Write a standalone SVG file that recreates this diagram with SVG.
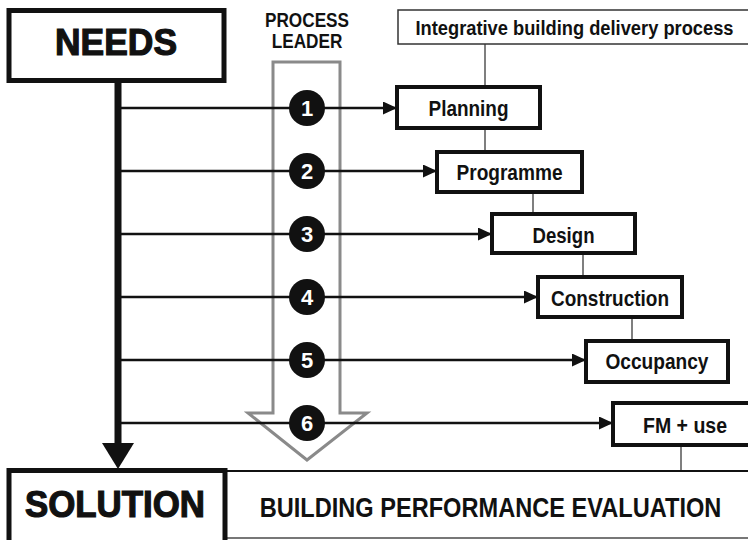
<svg xmlns="http://www.w3.org/2000/svg" width="748" height="540" viewBox="0 0 748 540">
<defs>
<style>
.t{font-family:"Liberation Sans",Arial,sans-serif;font-weight:bold;fill:#111;text-anchor:middle}
.big{font-size:36px;stroke:#111;stroke-width:1.2}
.lbl{font-size:22px}
.num{font-family:"Liberation Sans",Arial,sans-serif;font-weight:bold;font-size:22px;fill:#fff;text-anchor:middle}
.box{fill:#fff;stroke:#111;stroke-width:4}
.thick{fill:#fff;stroke:#111;stroke-width:5}
.flow{stroke:#111;stroke-width:2.5;fill:none}
.thin{stroke:#555;stroke-width:1.5;fill:none}
</style>
<marker id="ah" viewBox="0 0 14 13" refX="14" refY="6.5" markerWidth="14" markerHeight="13" markerUnits="userSpaceOnUse" orient="auto">
<path d="M0,0 L14,6.5 L0,13 Z" fill="#111"/>
</marker>
</defs>
<rect width="748" height="540" fill="#fff"/>

<g id="leader-arrow">
<path d="M273,62 L340,62 L340,413 L367,413 L307,460 L248,413 L273,413 Z" fill="none" stroke="#8a8a8a" stroke-width="3"/>
<text class="t" transform="translate(307,27) scale(0.86,1)" x="0" y="0" font-size="20">PROCESS</text>
<text class="t" transform="translate(307,48) scale(0.86,1)" x="0" y="0" font-size="20">LEADER</text>
</g>

<g id="connectors">
<line x1="118" y1="82" x2="118" y2="445" stroke="#111" stroke-width="7"/>
<path d="M102,443 L134,443 L118,469 Z" fill="#111"/>
<line class="flow" x1="118" y1="108" x2="397" y2="108" marker-end="url(#ah)"/>
<line class="flow" x1="118" y1="171" x2="437" y2="171" marker-end="url(#ah)"/>
<line class="flow" x1="118" y1="234" x2="492" y2="234" marker-end="url(#ah)"/>
<line class="flow" x1="118" y1="297" x2="538" y2="297" marker-end="url(#ah)"/>
<line class="flow" x1="118" y1="360" x2="586" y2="360" marker-end="url(#ah)"/>
<line class="flow" x1="118" y1="423" x2="613" y2="423" marker-end="url(#ah)"/>
<line class="thin" x1="485" y1="44" x2="485" y2="87"/>
<line class="thin" x1="485" y1="128" x2="485" y2="152"/>
<line class="thin" x1="533" y1="192" x2="533" y2="214"/>
<line class="thin" x1="583" y1="253" x2="583" y2="277"/>
<line class="thin" x1="632" y1="317" x2="632" y2="341"/>
<line class="thin" x1="681" y1="445" x2="681" y2="471"/>
</g>

<g id="steps">
<circle cx="307" cy="108" r="18" fill="#111"/><text class="num" x="307" y="116">1</text>
<circle cx="307" cy="171" r="18" fill="#111"/><text class="num" x="307" y="179">2</text>
<circle cx="307" cy="234" r="18" fill="#111"/><text class="num" x="307" y="242">3</text>
<circle cx="307" cy="297" r="18" fill="#111"/><text class="num" x="307" y="305">4</text>
<circle cx="307" cy="360" r="18" fill="#111"/><text class="num" x="307" y="368">5</text>
<circle cx="307" cy="423" r="18" fill="#111"/><text class="num" x="307" y="431">6</text>
</g>

<g id="needs">
<rect class="thick" x="9" y="10.5" width="215" height="70"/>
<text class="t big" x="116" y="55" font-size="32" textLength="122" lengthAdjust="spacingAndGlyphs">NEEDS</text>
</g>

<g id="integrative">
<rect x="398" y="10" width="360" height="34" fill="#fff" stroke="#333" stroke-width="1.5"/>
<text class="t" transform="translate(574.5,35) scale(0.915,1)" x="0" y="0" font-size="20">Integrative building delivery process</text>
</g>

<g id="planning">
<rect class="box" x="397" y="87" width="143" height="41"/>
<text class="t lbl" x="468.5" y="116" textLength="80" lengthAdjust="spacingAndGlyphs">Planning</text>
</g>
<g id="programme">
<rect class="box" x="437" y="152" width="145" height="40"/>
<text class="t lbl" x="509.5" y="180" textLength="106" lengthAdjust="spacingAndGlyphs">Programme</text>
</g>
<g id="design">
<rect class="box" x="492" y="214" width="143" height="39"/>
<text class="t lbl" x="563.5" y="243" textLength="62" lengthAdjust="spacingAndGlyphs">Design</text>
</g>
<g id="construction">
<rect class="box" x="538" y="277" width="144" height="40"/>
<text class="t lbl" x="610" y="306" textLength="118" lengthAdjust="spacingAndGlyphs">Construction</text>
</g>
<g id="occupancy">
<rect class="box" x="586" y="341" width="142" height="41"/>
<text class="t lbl" x="657" y="369" textLength="103" lengthAdjust="spacingAndGlyphs">Occupancy</text>
</g>
<g id="fm-use">
<rect class="box" x="613" y="403" width="145" height="42"/>
<text class="t lbl" x="685" y="433" textLength="84" lengthAdjust="spacingAndGlyphs">FM + use</text>
</g>

<g id="bpe">
<line x1="225" y1="471" x2="748" y2="471" stroke="#111" stroke-width="2"/>
<line x1="225" y1="538" x2="748" y2="538" stroke="#777" stroke-width="2"/>
<text class="t" transform="translate(490.5,517) scale(0.874,1)" x="0" y="0" font-size="27">BUILDING PERFORMANCE EVALUATION</text>
</g>

<g id="solution">
<rect class="thick" x="9" y="470.5" width="216" height="74"/>
<text class="t big" x="115" y="517" font-size="37" textLength="180" lengthAdjust="spacingAndGlyphs">SOLUTION</text>
</g>
</svg>
